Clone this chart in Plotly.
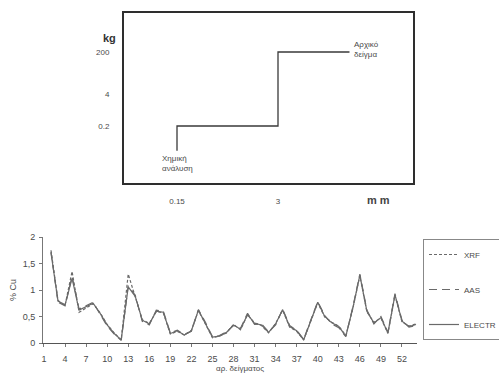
import math
import plotly.graph_objects as go

# ---------------- top panel data (log-log step diagram) ----------------
sieve_mm = [0.15, 3, 25]
sample_kg = [0.02, 0.2, 200]
top_xticks = [0.15, 3]
top_xticktext = ["0.15", "3"]
top_yticks = [0.2, 4, 200]
top_yticktext = ["0.2", "4", "200"]

# ---------------- bottom panel data ----------------
samples = list(range(2, 55))
electr = [1.70, 0.79, 0.72, 1.22, 0.62, 0.68, 0.75, 0.56, 0.34, 0.18,
          0.06, 1.06, 0.88, 0.43, 0.36, 0.60, 0.58, 0.18, 0.23, 0.15,
          0.23, 0.62, 0.37, 0.11, 0.13, 0.20, 0.34, 0.26, 0.54, 0.37,
          0.34, 0.20, 0.36, 0.63, 0.31, 0.23, 0.06, 0.41, 0.77, 0.50,
          0.38, 0.31, 0.13, 0.66, 1.28, 0.60, 0.38, 0.48, 0.19, 0.91,
          0.41, 0.31, 0.35]
aas = [1.72, 0.77, 0.70, 1.26, 0.64, 0.70, 0.77, 0.54, 0.32, 0.17,
       0.05, 1.08, 0.90, 0.41, 0.34, 0.62, 0.60, 0.19, 0.24, 0.16,
       0.22, 0.63, 0.39, 0.12, 0.14, 0.21, 0.33, 0.28, 0.56, 0.35,
       0.36, 0.21, 0.34, 0.64, 0.33, 0.24, 0.07, 0.43, 0.78, 0.52,
       0.36, 0.29, 0.12, 0.68, 1.30, 0.62, 0.36, 0.50, 0.20, 0.93,
       0.43, 0.30, 0.33]
xrf = [1.75, 0.80, 0.71, 1.35, 0.58, 0.66, 0.74, 0.57, 0.35, 0.19,
       0.06, 1.30, 0.86, 0.44, 0.37, 0.59, 0.57, 0.17, 0.22, 0.15,
       0.24, 0.61, 0.36, 0.10, 0.13, 0.19, 0.35, 0.25, 0.53, 0.38,
       0.33, 0.19, 0.37, 0.62, 0.30, 0.22, 0.06, 0.40, 0.76, 0.49,
       0.39, 0.32, 0.14, 0.65, 1.27, 0.59, 0.39, 0.47, 0.18, 0.90,
       0.40, 0.32, 0.36]
bottom_xticks = list(range(1, 53, 3))
bottom_yticks = [0, 0.5, 1, 1.5, 2]
bottom_yticktext = ["0", "0,5", "1", "1,5", "2"]

W, H = 499, 375
FONT = "Liberation Sans, Arial, sans-serif"
TXT = "#4a4a4a"
LINE = "#6a6a6a"

fig = go.Figure()

fig.add_trace(go.Scatter(
    x=sieve_mm, y=sample_kg, mode="lines",
    line=dict(shape="vh", color="#3a3a3a", width=1.3),
    xaxis="x", yaxis="y", showlegend=False, hoverinfo="skip"))

series = [("XRF", xrf, "3px,2px"), ("AAS", aas, "8px,5px"), ("ELECTR", electr, "solid")]
for name, vals, dash in series:
    fig.add_trace(go.Scatter(
        x=samples, y=vals, mode="lines", name=name, legendgroup=name,
        line=dict(color=LINE, width=1.2, dash=dash),
        xaxis="x2", yaxis="y2"))

def px_x(p):
    return p / W

def px_y(p):
    return 1 - p / H

fig.update_layout(
    width=W, height=H,
    margin=dict(l=0, r=0, t=0, b=0, autoexpand=False),
    paper_bgcolor="white", plot_bgcolor="white",
    font=dict(family=FONT, color=TXT, size=8),
    xaxis=dict(
        type="log", range=[-1.5066, 2.2162],
        domain=[px_x(124), px_x(413)], anchor="y",
        showline=True, mirror=True, linewidth=2, linecolor="#2e2e2e",
        showgrid=False, zeroline=False,
        tickvals=top_xticks, ticktext=top_xticktext,
        ticks="outside", ticklen=9, tickcolor="rgba(0,0,0,0)",
        tickfont=dict(size=8, color=TXT)),
    yaxis=dict(
        type="log", range=[-3.010, 3.882],
        domain=[px_y(183), px_y(13)], anchor="x",
        showline=True, mirror=True, linewidth=2, linecolor="#2e2e2e",
        showgrid=False, zeroline=False,
        tickvals=top_yticks, ticktext=top_yticktext,
        ticks="outside", ticklen=11, tickcolor="rgba(0,0,0,0)",
        tickfont=dict(size=8, color=TXT)),
    xaxis2=dict(
        range=[0.86, 54.14], domain=[px_x(43), px_x(417)], anchor="y2",
        showline=True, linewidth=1, linecolor="#555",
        showgrid=False, zeroline=False,
        tickvals=bottom_xticks, ticks="outside", ticklen=3, tickcolor="#777",
        ticklabelstandoff=4,
        tickfont=dict(size=9, color=TXT)),
    yaxis2=dict(
        range=[0, 2], domain=[px_y(343), px_y(237)], anchor="x2",
        showline=True, linewidth=1, linecolor="#777",
        showgrid=False, zeroline=False,
        tickvals=bottom_yticks, ticktext=bottom_yticktext,
        ticks="outside", ticklen=3, tickcolor="#777", ticklabelstandoff=2,
        tickfont=dict(size=9, color=TXT),
        title=dict(text="% Cu", font=dict(size=9, color=TXT), standoff=4)),
    legend=dict(
        x=px_x(423), y=px_y(239), xanchor="left", yanchor="top",
        bordercolor="#888", borderwidth=1, bgcolor="white",
        font=dict(size=8, color=TXT), tracegroupgap=16,
        traceorder="grouped", itemwidth=30),
    showlegend=True,
)

fig.add_annotation(xref="paper", yref="paper", x=px_x(101), y=px_y(30),
                   text="<b>kg</b>", showarrow=False,
                   font=dict(size=11, color="#333"))
fig.add_annotation(xref="paper", yref="paper", x=px_x(392), y=px_y(200),
                   text="<b>m m</b>", showarrow=False,
                   font=dict(size=11, color="#444"))
fig.add_annotation(xref="paper", yref="paper", x=px_x(240), y=px_y(368),
                   text="αρ. δείγματος", showarrow=False,
                   yanchor="middle", font=dict(size=8, color=TXT))
fig.add_annotation(xref="x", yref="y",
                   x=math.log10(sieve_mm[0]), y=math.log10(sample_kg[0]),
                   text="Χημική<br>ανάλυση", showarrow=False,
                   xanchor="center", yanchor="top", yshift=-1, align="left",
                   font=dict(size=8, color=TXT))
fig.add_annotation(xref="x", yref="y",
                   x=math.log10(sieve_mm[-1]), y=math.log10(sample_kg[-1]),
                   text="Αρχικό<br>δείγμα", showarrow=False,
                   xanchor="left", yanchor="middle", xshift=3, yshift=2,
                   align="left", font=dict(size=8, color=TXT))

fig.write_html("out.html",
               config={"displayModeBar": False},
               post_script="document.body.style.margin='0';document.body.style.overflow='hidden';")
